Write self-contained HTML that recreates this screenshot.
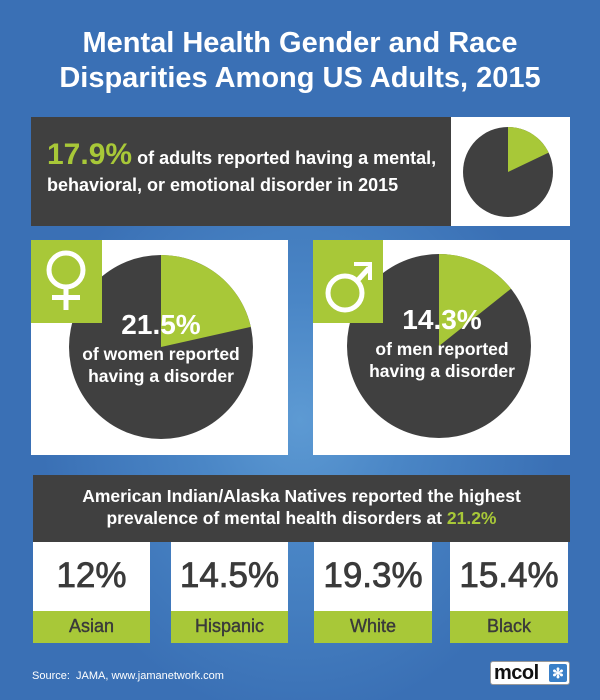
<!DOCTYPE html>
<html><head><meta charset="utf-8"><style>
body{margin:0;width:600px;height:700px;overflow:hidden;font-family:"Liberation Sans",sans-serif;font-weight:bold}
#bg{position:absolute;left:0;top:0;width:600px;height:700px;background:radial-gradient(ellipse 260px 300px at 300px 420px,#5d9ad3 0%,#4a86c6 40%,#3a70b5 100%)}
.a{position:absolute}
.t{position:absolute;white-space:nowrap;text-align:center}
</style></head><body>
<div id="bg"></div>
<div class="t" style="left:0;width:600px;top:26px;font-size:29px;color:#fff;line-height:35px">Mental Health Gender and Race<br>Disparities Among US Adults, 2015</div>

<div class="a" style="left:31px;top:117px;width:420px;height:109px;background:#404040"></div>
<div class="a" style="left:451px;top:117px;width:119px;height:109px;background:#fff"></div>
<div class="t" style="left:47px;top:141px;text-align:left;color:#fff;font-size:18px;line-height:27px"><span style="color:#a8c838;font-size:30px">17.9%</span> of adults reported having a mental,<br>behavioral, or emotional disorder in 2015</div>

<div class="a" style="left:31px;top:240px;width:257px;height:215px;background:#fff"></div>
<div class="a" style="left:313px;top:240px;width:257px;height:215px;background:#fff"></div>

<svg class="a" style="left:0;top:0" width="600" height="700">
<circle cx="508" cy="172" r="45" fill="#404040"/>
<path d="M508 172 L508 127 A45 45 0 0 1 548.6 152.6 Z" fill="#a8c838"/>
<circle cx="161" cy="347" r="92" fill="#404040"/>
<path d="M161 347 L161 255 A92 92 0 0 1 250.8 326.9 Z" fill="#a8c838"/>
<circle cx="439" cy="346" r="92" fill="#404040"/>
<path d="M439 346 L439 254 A92 92 0 0 1 511 288.7 Z" fill="#a8c838"/>
<rect x="31" y="240" width="71" height="83" fill="#a8c838"/>
<rect x="313" y="240" width="70" height="83" fill="#a8c838"/>
<circle cx="66" cy="270" r="17" fill="none" stroke="#fff" stroke-width="5"/>
<rect x="63.5" y="287" width="5" height="23" fill="#fff"/>
<rect x="52" y="295" width="28" height="5" fill="#fff"/>
<circle cx="345" cy="293" r="17" fill="none" stroke="#fff" stroke-width="5"/>
<line x1="357" y1="281" x2="369" y2="268" stroke="#fff" stroke-width="5"/>
<path d="M354 262 L372 262 L372 280 L368 280 L368 266 L354 266Z" fill="#fff"/>
</svg>

<div class="t" style="left:61px;width:200px;top:309px;color:#fff;font-size:28px">21.5%</div>
<div class="t" style="left:61px;width:200px;top:343px;color:#fff;font-size:17.5px;line-height:22px">of women reported<br>having a disorder</div>
<div class="t" style="left:342px;width:200px;top:304px;color:#fff;font-size:28px">14.3%</div>
<div class="t" style="left:342px;width:200px;top:338px;color:#fff;font-size:17.5px;line-height:22px">of men reported<br>having a disorder</div>

<div class="a" style="left:33px;top:475px;width:537px;height:67px;background:#404040"></div>
<div class="t" style="left:33px;width:537px;top:485px;color:#fff;font-size:17.5px;line-height:22px">American Indian/Alaska Natives reported the highest<br>prevalence of mental health disorders at <span style="color:#a8c838">21.2%</span></div>

<div class="a" style="left:33px;top:542px;width:117px;height:69px;background:#fff"></div>
<div class="a" style="left:33px;top:611px;width:117px;height:32px;background:#a8c838"></div>
<div class="a" style="left:171px;top:542px;width:117px;height:69px;background:#fff"></div>
<div class="a" style="left:171px;top:611px;width:117px;height:32px;background:#a8c838"></div>
<div class="a" style="left:314px;top:542px;width:118px;height:69px;background:#fff"></div>
<div class="a" style="left:314px;top:611px;width:118px;height:32px;background:#a8c838"></div>
<div class="a" style="left:450px;top:542px;width:118px;height:69px;background:#fff"></div>
<div class="a" style="left:450px;top:611px;width:118px;height:32px;background:#a8c838"></div>

<div class="t" style="left:33px;width:117px;top:556px;font-size:35px;color:#3a3a3a;font-weight:normal;-webkit-text-stroke:0.8px #3a3a3a">12%</div>
<div class="t" style="left:171px;width:117px;top:556px;font-size:35px;color:#3a3a3a;font-weight:normal;-webkit-text-stroke:0.8px #3a3a3a">14.5%</div>
<div class="t" style="left:314px;width:118px;top:556px;font-size:35px;color:#3a3a3a;font-weight:normal;-webkit-text-stroke:0.8px #3a3a3a">19.3%</div>
<div class="t" style="left:450px;width:118px;top:556px;font-size:35px;color:#3a3a3a;font-weight:normal;-webkit-text-stroke:0.8px #3a3a3a">15.4%</div>
<div class="t" style="left:33px;width:117px;top:616px;font-size:18px;color:#3a3a3a;font-weight:normal;-webkit-text-stroke:0.4px #3a3a3a">Asian</div>
<div class="t" style="left:171px;width:117px;top:616px;font-size:18px;color:#3a3a3a;font-weight:normal;-webkit-text-stroke:0.4px #3a3a3a">Hispanic</div>
<div class="t" style="left:314px;width:118px;top:616px;font-size:18px;color:#3a3a3a;font-weight:normal;-webkit-text-stroke:0.4px #3a3a3a">White</div>
<div class="t" style="left:450px;width:118px;top:616px;font-size:18px;color:#3a3a3a;font-weight:normal;-webkit-text-stroke:0.4px #3a3a3a">Black</div>

<div class="t" style="left:32px;top:670px;font-size:11px;color:#fff;font-weight:normal;text-align:left">Source:&nbsp; JAMA, www.jamanetwork.com</div>
<div class="a" style="left:490px;top:661px;width:80px;height:24px;background:#fff;border-radius:3px;border:1px solid #999;box-sizing:border-box"></div>
<div class="t" style="left:494px;top:661px;font-size:20px;color:#111;line-height:24px;text-align:left;letter-spacing:-0.5px">mcol</div>
<div class="a" style="left:549px;top:664px;width:18px;height:18px;background:#3a80c8;border-radius:2px;color:#fff;font-size:14px;line-height:18px;text-align:center">✻</div>
</body></html>
